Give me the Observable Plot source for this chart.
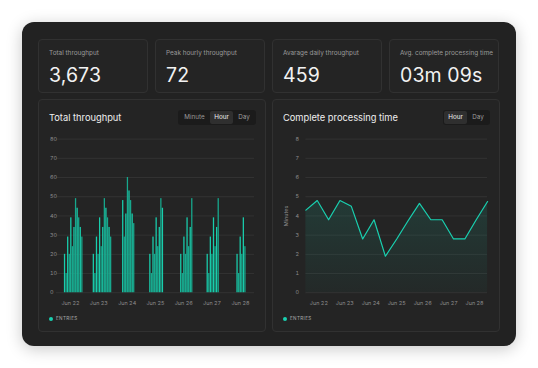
<!DOCTYPE html>
<html>
<head>
<meta charset="utf-8">
<script src="https://cdn.jsdelivr.net/npm/d3@7"></script>
<script src="https://cdn.jsdelivr.net/npm/@observablehq/plot@0.6"></script>
<style>
  html, body { margin: 0; padding: 0; background: #ffffff; }
  body { width: 538px; height: 368px; position: relative; overflow: hidden; font-family: Inter, "Noto Sans", sans-serif; }
  .card { position: absolute; left: 22px; top: 22px; width: 494px; height: 324px; border-radius: 12px; background: #222222; box-shadow: 0 3px 16px rgba(0,0,0,0.22); }
  .stat { position: absolute; top: 39px; width: 108px; height: 52px; border: 1px solid #313131; border-radius: 4px; background: #242424; box-sizing: content-box; }
  .stat .lbl { position: absolute; left: 10px; top: 9px; font-size: 6.4px; color: #9a9a9a; white-space: nowrap; }
  .stat .val { position: absolute; left: 10px; top: 23px; font-size: 19.5px; color: #f2f2f2; letter-spacing: 0.1px; white-space: nowrap; }
  .panel { position: absolute; top: 99px; width: 226px; height: 231px; border: 1px solid #313131; border-radius: 4px; background: #242424; }
  .ptitle { position: absolute; left: 10px; top: 12px; font-size: 9.3px; color: #efefef; font-weight: 400; white-space: nowrap; }
  .seg { position: absolute; top: 10px; height: 15px; background: #1b1b1b; border-radius: 3px; display: flex; }
  .seg div { font-size: 6.3px; color: #9a9a9a; line-height: 13px; height: 13px; margin-top: 1px; text-align: center; border-radius: 2px; }
  .seg div.on { background: #2f2f2f; color: #f0f0f0; }
  .legend { position: absolute; left: 10px; top: 216px; display: flex; align-items: center; font-size: 4.6px; letter-spacing: 0.35px; color: #a8a8a8; }
  .legend .dot { width: 4px; height: 4px; border-radius: 50%; background: #19d0b0; margin-right: 3px; }
  .chart { position: absolute; top: 29px; left: -1px; }
</style>
</head>
<body>
<div class="card"></div>

<div class="stat" style="left:38px"><div class="lbl">Total throughput</div><div class="val">3,673</div></div>
<div class="stat" style="left:155px"><div class="lbl">Peak hourly throughput</div><div class="val">72</div></div>
<div class="stat" style="left:272px"><div class="lbl">Avarage daily throughput</div><div class="val">459</div></div>
<div class="stat" style="left:389px"><div class="lbl">Avg. complete processing time</div><div class="val">03m 09s</div></div>

<div class="panel" style="left:38px" id="p1">
  <div class="ptitle">Total throughput</div>
  <div class="seg" style="left:139px; width:78px;">
    <div style="width:31px; margin-left:1px;">Minute</div>
    <div class="on" style="width:23px;">Hour</div>
    <div style="width:22px;">Day</div>
  </div>
  <div class="legend"><div class="dot"></div>ENTRIES</div>
</div>

<div class="panel" style="left:272px" id="p2">
  <div class="ptitle">Complete processing time</div>
  <div class="seg" style="left:170px; width:47px;">
    <div class="on" style="width:23px; margin-left:1px;">Hour</div>
    <div style="width:22px;">Day</div>
  </div>
  <div class="legend"><div class="dot"></div>ENTRIES</div>
</div>

<script>
// ---- Data ----
const days = ["2024-06-22","2024-06-23","2024-06-24","2024-06-25","2024-06-26","2024-06-27","2024-06-28"];
const dayStartHour = [6.7, 7.1, 8.0, 7.0, 9.2, 7.6, 8.9];
const slotMinutes = 80;
const entries = [
  [20,10,29,20,39,24,34,49,44,39,34,29],
  [20,10,29,20,39,24,34,49,44,39,34,29],
  [48,29,41,60,53,48,41,36],
  [20,10,29,20,39,24,34,49,44],
  [20,10,29,20,39,24,34,49],
  [20,10,29,20,39,24,34,49],
  [20,10,29,20,39,24]
];
const yTicksLeft = [0,10,20,30,40,50,60,70,80];

const procTimes = ["2024-06-22T00:00Z","2024-06-22T10:30Z","2024-06-22T21:00Z","2024-06-23T07:30Z","2024-06-23T18:00Z",
  "2024-06-24T04:30Z","2024-06-24T15:00Z","2024-06-25T01:30Z","2024-06-25T12:00Z","2024-06-25T22:30Z",
  "2024-06-26T09:00Z","2024-06-26T19:30Z","2024-06-27T06:00Z","2024-06-27T16:30Z","2024-06-28T03:00Z",
  "2024-06-28T13:30Z","2024-06-29T00:00Z"];
const procMinutes = [4.3,4.8,3.8,4.8,4.5,2.8,3.8,1.9,2.8,3.75,4.65,3.8,3.8,2.8,2.8,3.8,4.75];
const yTicksRight = [0,1,2,3,4,5,6,7,8];

// ---- Tables ----
const bars = [];
days.forEach((d, i) => {
  const base = new Date(d + "T00:00Z").getTime() + dayStartHour[i] * 3600e3;
  entries[i].forEach((v, j) => {
    bars.push({start: new Date(base + j * slotMinutes * 60e3), end: new Date(base + (j + 1) * slotMinutes * 60e3), value: v, k: j % 2});
  });
});
const line = procTimes.map((t, i) => ({time: new Date(t), value: procMinutes[i]}));
const tickDates = days.map(d => new Date(d + "T12:00Z"));
const fmt = d3.utcFormat("%b %-d");
const xDomain = [new Date("2024-06-22T00:00Z"), new Date("2024-06-29T00:00Z")];
const teal = "#19d0b0";
const baseStyle = {background: "transparent", color: "#8c8c8c", fontFamily: "Inter, sans-serif", fontSize: "5.5px", overflow: "visible"};

const left = Plot.plot({
  width: 228, height: 182,
  marginLeft: 18, marginRight: 10, marginTop: 9.7, marginBottom: 17.3,
  style: baseStyle,
  x: {type: "utc", domain: xDomain},
  y: {domain: [0, 80]},
  marks: [
    Plot.gridY(yTicksLeft, {stroke: "#333333", strokeOpacity: 1}),
    Plot.rectY(bars, {x1: "start", x2: "end", y1: 0, y2: "value", fill: d => d.k ? "#17a88d" : "#19cdac", insetLeft: 0.15, insetRight: 0.15}),
    Plot.axisX({ticks: tickDates, tickFormat: fmt, tickSize: 0, tickPadding: 8, label: null}),
    Plot.axisY({ticks: yTicksLeft, tickSize: 0, tickPadding: 0, textAnchor: "start", dx: -6.5, label: null})
  ]
});
left.classList.add("chart");
document.getElementById("p1").appendChild(left);

const right = Plot.plot({
  width: 228, height: 182,
  marginLeft: 33.7, marginRight: 11, marginTop: 9.7, marginBottom: 17.3,
  style: baseStyle,
  x: {type: "utc", domain: xDomain},
  y: {domain: [0, 8]},
  marks: [
    Plot.gridY(yTicksRight, {stroke: "#333333", strokeOpacity: 1}),
    Plot.areaY(line, {x: "time", y1: 0, y2: "value", fill: "url(#cptGrad)"}),
    Plot.lineY(line, {x: "time", y: "value", stroke: teal, strokeWidth: 1.2}),
    Plot.axisX({ticks: tickDates, tickFormat: fmt, tickSize: 0, tickPadding: 8, label: null}),
    Plot.axisY({ticks: yTicksRight, tickSize: 0, tickPadding: 7, label: "Minutes", labelAnchor: "center", labelArrow: false, labelOffset: 22})
  ]
});
d3.select(right).insert("defs", ":first-child").html(
  '<linearGradient id="cptGrad" x1="0" y1="0" x2="0" y2="1">' +
  '<stop offset="0" stop-color="#19d0b0" stop-opacity="0.13"/>' +
  '<stop offset="1" stop-color="#19d0b0" stop-opacity="0.03"/></linearGradient>');
right.classList.add("chart");
document.getElementById("p2").appendChild(right);
</script>
</body>
</html>
